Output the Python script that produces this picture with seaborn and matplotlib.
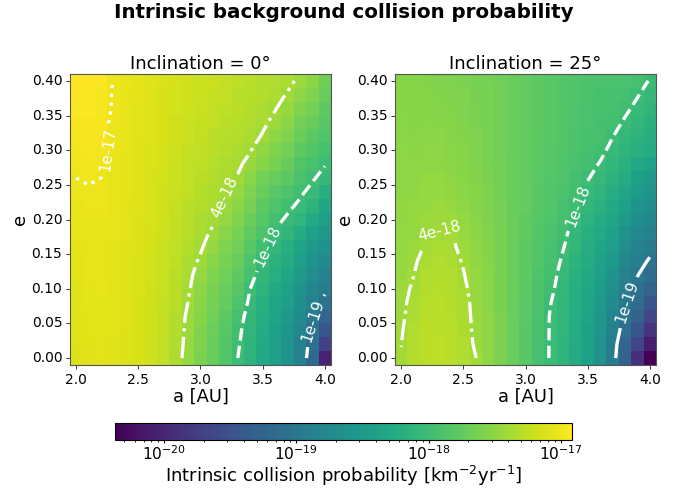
import numpy as np
import pandas as pd
import matplotlib
matplotlib.use("Agg")
import matplotlib.pyplot as plt
from matplotlib.colors import LogNorm
import seaborn as sns

a_values = [2.0, 2.1, 2.2, 2.3, 2.4, 2.5, 2.6, 2.7, 2.8, 2.9, 3.0, 3.1, 3.2, 3.3, 3.4, 3.5, 3.6, 3.7, 3.8, 3.9, 4.0]
e_values = [0.00, 0.02, 0.04, 0.06, 0.08, 0.10, 0.12, 0.14, 0.16, 0.18, 0.20, 0.22, 0.24, 0.26, 0.28, 0.30, 0.32, 0.34, 0.36, 0.38, 0.40]

# log10 of the probability: one list per a value, running through e_values
log_p_inc0 = [
    [-17.10,-17.10,-17.09,-17.09,-17.08,-17.08,-17.07,-17.07,-17.06,-17.05,-17.05,-17.04,-17.02,-17.00,-16.99,-16.98,-16.97,-16.95,-16.94,-16.93,-16.92],
    [-17.08,-17.08,-17.07,-17.07,-17.06,-17.06,-17.05,-17.05,-17.04,-17.03,-17.03,-17.02,-17.01,-16.99,-16.98,-16.97,-16.96,-16.95,-16.94,-16.93,-16.92],
    [-17.07,-17.07,-17.06,-17.06,-17.06,-17.05,-17.05,-17.04,-17.04,-17.03,-17.03,-17.02,-17.01,-17.00,-16.99,-16.98,-16.97,-16.97,-16.96,-16.95,-16.94],
    [-17.08,-17.08,-17.07,-17.07,-17.07,-17.07,-17.06,-17.06,-17.06,-17.05,-17.05,-17.05,-17.04,-17.04,-17.03,-17.02,-17.02,-17.02,-17.01,-17.01,-17.005],
    [-17.10,-17.10,-17.10,-17.09,-17.09,-17.09,-17.08,-17.08,-17.08,-17.07,-17.07,-17.07,-17.06,-17.06,-17.06,-17.05,-17.05,-17.05,-17.04,-17.04,-17.03],
    [-17.13,-17.13,-17.12,-17.12,-17.12,-17.11,-17.11,-17.11,-17.10,-17.10,-17.10,-17.09,-17.09,-17.08,-17.08,-17.08,-17.07,-17.07,-17.07,-17.06,-17.06],
    [-17.18,-17.18,-17.17,-17.17,-17.16,-17.16,-17.15,-17.15,-17.14,-17.14,-17.13,-17.13,-17.12,-17.12,-17.11,-17.11,-17.10,-17.10,-17.10,-17.09,-17.09],
    [-17.25,-17.25,-17.24,-17.23,-17.22,-17.21,-17.20,-17.19,-17.19,-17.18,-17.17,-17.16,-17.16,-17.15,-17.14,-17.14,-17.13,-17.13,-17.12,-17.12,-17.11],
    [-17.34,-17.33,-17.32,-17.31,-17.29,-17.28,-17.27,-17.26,-17.25,-17.24,-17.23,-17.22,-17.21,-17.20,-17.19,-17.18,-17.17,-17.16,-17.15,-17.15,-17.14],
    [-17.46,-17.45,-17.44,-17.43,-17.40,-17.38,-17.36,-17.34,-17.32,-17.30,-17.28,-17.27,-17.25,-17.24,-17.23,-17.22,-17.20,-17.19,-17.18,-17.17,-17.16],
    [-17.60,-17.59,-17.57,-17.55,-17.53,-17.50,-17.47,-17.42,-17.38,-17.36,-17.34,-17.32,-17.30,-17.28,-17.26,-17.25,-17.23,-17.22,-17.21,-17.20,-17.19],
    [-17.72,-17.71,-17.69,-17.67,-17.64,-17.61,-17.58,-17.53,-17.48,-17.42,-17.38,-17.36,-17.34,-17.32,-17.30,-17.28,-17.27,-17.25,-17.24,-17.22,-17.21],
    [-17.85,-17.84,-17.82,-17.79,-17.75,-17.71,-17.67,-17.62,-17.58,-17.53,-17.48,-17.43,-17.38,-17.36,-17.34,-17.32,-17.30,-17.28,-17.26,-17.25,-17.24],
    [-18.00,-17.98,-17.96,-17.93,-17.88,-17.83,-17.78,-17.72,-17.67,-17.62,-17.57,-17.52,-17.47,-17.41,-17.37,-17.34,-17.32,-17.30,-17.28,-17.27,-17.26],
    [-18.14,-18.13,-18.11,-18.08,-18.04,-18.00,-17.94,-17.88,-17.82,-17.76,-17.70,-17.64,-17.58,-17.52,-17.45,-17.39,-17.35,-17.33,-17.31,-17.30,-17.29],
    [-18.28,-18.27,-18.25,-18.22,-18.18,-18.14,-18.09,-18.03,-17.96,-17.90,-17.83,-17.77,-17.71,-17.65,-17.55,-17.49,-17.41,-17.37,-17.34,-17.32,-17.31],
    [-18.42,-18.41,-18.39,-18.36,-18.32,-18.27,-18.21,-18.15,-18.09,-18.02,-17.95,-17.88,-17.82,-17.72,-17.63,-17.57,-17.50,-17.44,-17.39,-17.35,-17.33],
    [-18.60,-18.58,-18.55,-18.50,-18.45,-18.39,-18.33,-18.26,-18.19,-18.11,-18.03,-17.96,-17.88,-17.79,-17.72,-17.65,-17.58,-17.52,-17.47,-17.41,-17.36],
    [-18.85,-18.83,-18.78,-18.72,-18.65,-18.58,-18.50,-18.43,-18.35,-18.24,-18.11,-18.035,-17.97,-17.91,-17.85,-17.78,-17.71,-17.65,-17.57,-17.50,-17.43],
    [-19.20,-19.13,-19.05,-18.96,-18.87,-18.78,-18.69,-18.60,-18.51,-18.42,-18.28,-18.14,-18.05,-17.98,-17.92,-17.86,-17.79,-17.72,-17.65,-17.58,-17.52],
    [-20.05,-19.70,-19.45,-19.25,-19.08,-18.95,-18.84,-18.73,-18.63,-18.53,-18.43,-18.33,-18.20,-18.06,-17.99,-17.93,-17.87,-17.82,-17.77,-17.72,-17.68],
]

log_p_inc25 = [
    [-17.39,-17.40,-17.41,-17.42,-17.43,-17.44,-17.45,-17.46,-17.47,-17.48,-17.49,-17.49,-17.50,-17.50,-17.51,-17.51,-17.52,-17.52,-17.53,-17.53,-17.54],
    [-17.31,-17.32,-17.33,-17.35,-17.36,-17.38,-17.40,-17.42,-17.44,-17.46,-17.47,-17.48,-17.49,-17.50,-17.51,-17.52,-17.53,-17.54,-17.54,-17.55,-17.55],
    [-17.27,-17.27,-17.28,-17.29,-17.30,-17.31,-17.33,-17.35,-17.385,-17.42,-17.44,-17.46,-17.47,-17.48,-17.50,-17.51,-17.52,-17.53,-17.54,-17.55,-17.56],
    [-17.26,-17.26,-17.27,-17.28,-17.29,-17.30,-17.31,-17.33,-17.36,-17.395,-17.42,-17.44,-17.46,-17.48,-17.50,-17.51,-17.52,-17.54,-17.55,-17.56,-17.57],
    [-17.28,-17.28,-17.29,-17.30,-17.31,-17.32,-17.33,-17.35,-17.37,-17.388,-17.42,-17.47,-17.49,-17.50,-17.52,-17.53,-17.54,-17.55,-17.56,-17.57,-17.58],
    [-17.33,-17.33,-17.34,-17.345,-17.35,-17.37,-17.39,-17.41,-17.44,-17.46,-17.48,-17.50,-17.52,-17.53,-17.54,-17.55,-17.56,-17.57,-17.58,-17.59,-17.60],
    [-17.395,-17.42,-17.43,-17.44,-17.45,-17.46,-17.47,-17.49,-17.50,-17.52,-17.53,-17.54,-17.55,-17.56,-17.57,-17.58,-17.59,-17.60,-17.60,-17.61,-17.62],
    [-17.50,-17.50,-17.51,-17.51,-17.52,-17.52,-17.53,-17.54,-17.55,-17.56,-17.57,-17.58,-17.59,-17.60,-17.61,-17.61,-17.62,-17.62,-17.63,-17.63,-17.64],
    [-17.60,-17.60,-17.60,-17.60,-17.61,-17.61,-17.62,-17.62,-17.63,-17.63,-17.64,-17.64,-17.65,-17.65,-17.65,-17.66,-17.66,-17.66,-17.67,-17.67,-17.67],
    [-17.71,-17.71,-17.70,-17.70,-17.70,-17.70,-17.70,-17.70,-17.70,-17.70,-17.70,-17.70,-17.70,-17.70,-17.70,-17.70,-17.70,-17.70,-17.70,-17.70,-17.71],
    [-17.82,-17.82,-17.81,-17.80,-17.80,-17.79,-17.78,-17.78,-17.77,-17.76,-17.76,-17.75,-17.75,-17.74,-17.74,-17.74,-17.74,-17.74,-17.74,-17.74,-17.75],
    [-17.93,-17.93,-17.92,-17.91,-17.90,-17.89,-17.88,-17.86,-17.85,-17.84,-17.83,-17.82,-17.81,-17.80,-17.79,-17.79,-17.79,-17.78,-17.78,-17.78,-17.78],
    [-18.01,-18.01,-18.01,-18.01,-17.995,-17.97,-17.95,-17.93,-17.91,-17.89,-17.87,-17.86,-17.85,-17.84,-17.83,-17.83,-17.82,-17.82,-17.81,-17.81,-17.81],
    [-18.12,-18.12,-18.11,-18.10,-18.09,-18.07,-18.05,-18.02,-17.99,-17.96,-17.94,-17.92,-17.90,-17.88,-17.87,-17.86,-17.85,-17.85,-17.84,-17.84,-17.84],
    [-18.26,-18.26,-18.25,-18.23,-18.21,-18.19,-18.17,-18.14,-18.10,-18.07,-18.02,-17.98,-17.95,-17.93,-17.91,-17.90,-17.89,-17.88,-17.88,-17.87,-17.87],
    [-18.42,-18.41,-18.39,-18.37,-18.34,-18.31,-18.28,-18.25,-18.22,-18.18,-18.14,-18.09,-18.04,-17.99,-17.95,-17.93,-17.92,-17.91,-17.91,-17.90,-17.90],
    [-18.62,-18.60,-18.57,-18.54,-18.50,-18.46,-18.42,-18.38,-18.33,-18.29,-18.24,-18.17,-18.11,-18.06,-18.01,-17.96,-17.94,-17.93,-17.92,-17.92,-17.91],
    [-18.93,-18.91,-18.87,-18.80,-18.72,-18.65,-18.58,-18.51,-18.45,-18.39,-18.34,-18.29,-18.22,-18.145,-18.10,-18.045,-17.995,-17.95,-17.93,-17.92,-17.91],
    [-19.30,-19.24,-19.12,-19.05,-18.98,-18.91,-18.84,-18.76,-18.69,-18.62,-18.50,-18.42,-18.34,-18.25,-18.17,-18.12,-18.07,-18.02,-17.97,-17.93,-17.91],
    [-19.90,-19.65,-19.45,-19.30,-19.18,-19.08,-18.99,-18.91,-18.83,-18.75,-18.67,-18.58,-18.49,-18.40,-18.30,-18.19,-18.14,-18.09,-18.04,-17.99,-17.94],
    [-20.36,-20.10,-19.85,-19.65,-19.45,-19.27,-19.15,-19.03,-18.93,-18.85,-18.77,-18.69,-18.60,-18.50,-18.38,-18.26,-18.21,-18.16,-18.11,-18.06,-18.01],
]

panel_titles = ["Inclination = 0°", "Inclination = 25°"]
contour_levels = [1e-19, 1e-18, 4e-18, 1e-17]
contour_labels = ["1e-19", "1e-18", "4e-18", "1e-17"]
contour_styles = ["-", "--", "-.", ":"]
x_ticks = [2.0, 2.5, 3.0, 3.5, 4.0]
y_ticks = [0.00, 0.05, 0.10, 0.15, 0.20, 0.25, 0.30, 0.35, 0.40]
label_spots = [
    [(2.26, 0.30), (3.20, 0.231), (3.545, 0.161), (3.89, 0.055)],
    [(2.31, 0.18), (3.42, 0.22), (3.80, 0.082)],
]

W, H = 681, 488
fig = plt.figure(figsize=(W / 100, H / 100), dpi=100)


def to_index(a, e):
    return (a - a_values[0]) / 0.1 + 0.5, (e - e_values[0]) / 0.02 + 0.5


norm = LogNorm(vmin=10 ** -20.37, vmax=10 ** -16.917)
boxes = [(70, 74, 261, 291), (395, 74, 261, 291)]
mesh = None
for box, table, title, spots in zip(boxes, [log_p_inc0, log_p_inc25], panel_titles, label_spots):
    x0, y0, w, h = box
    ax = fig.add_axes([x0 / W, 1 - (y0 + h) / H, w / W, h / H])
    grid = 10.0 ** np.array(table).T
    frame = pd.DataFrame(grid, index=e_values, columns=a_values)
    sns.heatmap(frame, ax=ax, cmap="viridis", norm=norm, cbar=False, square=False)
    ax.invert_yaxis()
    mesh = ax.collections[0]
    xi = np.arange(len(a_values)) + 0.5
    yi = np.arange(len(e_values)) + 0.5
    cs = ax.contour(xi, yi, grid, levels=contour_levels, colors="white",
                    linewidths=2.4, linestyles=contour_styles)
    fmt = dict(zip(cs.levels, contour_labels))
    ax.clabel(cs, inline=True, fontsize=11, fmt=fmt,
              manual=[to_index(a, e) for a, e in spots])
    ax.set_xticks([to_index(v, 0)[0] for v in x_ticks])
    ax.set_xticklabels([f"{v:.1f}" for v in x_ticks], rotation=0, fontsize=10)
    ax.set_yticks([to_index(2, v)[1] for v in y_ticks])
    ax.set_yticklabels([f"{v:.2f}" for v in y_ticks], rotation=0, fontsize=10)
    ax.tick_params(length=3, width=0.7, pad=2.5, color="#333333")
    for side in ax.spines.values():
        side.set_visible(True)
        side.set_linewidth(0.8)
        side.set_edgecolor("#555555")
    ax.set_xlabel("a [AU]", fontsize=12.9, labelpad=0.5)
    ax.set_ylabel("e", fontsize=12.9, labelpad=2)
    ax.set_title(title, fontsize=13, pad=3.5)

fig.text(0.5045, 0.975, "Intrinsic background collision probability",
         ha="center", va="center", fontsize=14.3, fontweight="bold")

cax = fig.add_axes([115.3 / W, 1 - 440 / H, 456.4 / W, 17 / H])
cbar = fig.colorbar(mesh, cax=cax, orientation="horizontal")
cbar.ax.tick_params(labelsize=11.2, length=2.5, pad=0.5)
cbar.ax.tick_params(which="minor", length=1.5)
cbar.set_label(r"Intrinsic collision probability [km$^{-2}$yr$^{-1}$]", fontsize=13, labelpad=0.5)

fig.savefig("out.png", dpi=100)
